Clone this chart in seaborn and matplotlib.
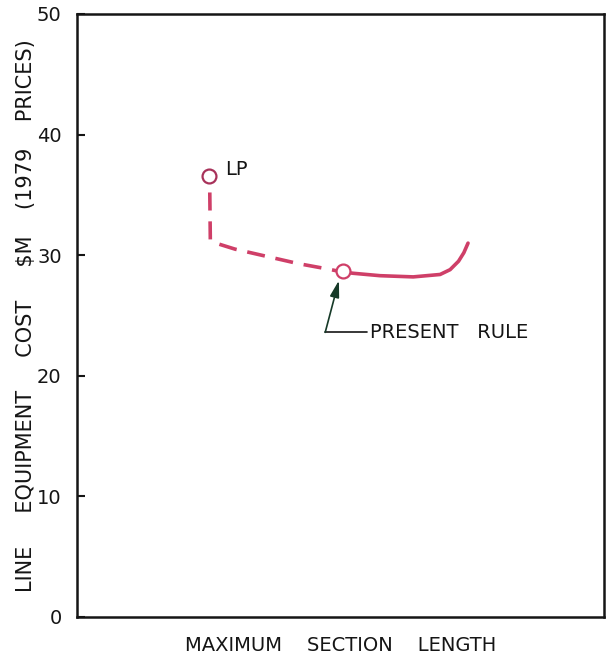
import numpy as np
import pandas as pd
import seaborn as sns
import matplotlib
matplotlib.use("Agg")
import matplotlib.pyplot as plt

# values (x in arbitrary units 0-100, cost in $M)
dash_x = [25.2, 25.2, 25.3, 25.6, 30.0, 36.0, 42.0, 47.0, 50.5]
dash_y = [36.4, 35.2, 31.3, 31.1, 30.5, 29.9, 29.3, 28.9, 28.6]
solid_x = [50.5, 52.4, 57.5, 63.8, 68.9, 70.8, 72.4, 73.4, 74.2]
solid_y = [28.6, 28.5, 28.3, 28.2, 28.4, 28.8, 29.5, 30.2, 31.0]
lp_pt = (25.1, 36.6)
present_pt = (50.5, 28.7)

line_col = "#cf3f68"
ink = "#151515"

sns.set_style("white")
plt.rcParams["font.family"] = ["DejaVu Sans"]
plt.rcParams["text.color"] = ink
plt.rcParams["axes.labelcolor"] = ink
plt.rcParams["ytick.color"] = ink

fig = plt.figure(figsize=(6.09, 6.60), dpi=100)
ax = fig.add_axes([0.1264, 0.0652, 0.8654, 0.9136])

# dashed part (LP end; skip circle portion)
sns.lineplot(x=dash_x[1:], y=dash_y[1:], ax=ax, color=line_col, lw=2.6,
             linestyle=(0, (5.0, 3.0)), sort=False, estimator=None)
sns.lineplot(x=solid_x, y=solid_y, ax=ax, color=line_col, lw=2.6,
             sort=False, estimator=None)
ax.plot(*lp_pt, marker="o", ms=10, mfc="white", mec="#a8325a", mew=1.6, zorder=5)
ax.plot(*present_pt, marker="o", ms=10, mfc="white", mec=line_col, mew=1.6, zorder=5)

ax.text(lp_pt[0] + 3.0, lp_pt[1] + 0.5, "LP", fontsize=14, va="center", ha="left")

# arrow to present rule
ax.plot([55.0, 47.1], [23.6, 23.6], color=ink, lw=1.2)
ax.annotate("", xy=(49.7, 27.9), xytext=(47.1, 23.6),
            arrowprops=dict(arrowstyle="-|>,head_length=1.0,head_width=0.28",
                            color="#163a28", lw=1.2, shrinkA=0, shrinkB=0))
ax.text(55.6, 23.6, "PRESENT   RULE", fontsize=14, va="center", ha="left")

ax.set_xlim(0, 100)
ax.set_ylim(0, 50)
ax.set_xticks([])
ax.set_yticks([0, 10, 20, 30, 40, 50])
ax.set_yticklabels(["0", "10", "20", "30", "40", "50"], fontsize=14)
ax.tick_params(axis="y", direction="in", length=6, width=1.5, pad=11, left=True)
for s in ax.spines.values():
    s.set_visible(True)
    s.set_color(ink)
    s.set_linewidth(1.8)

ax.set_xlabel("MAXIMUM    SECTION    LENGTH", fontsize=14, labelpad=14)
ax.set_ylabel("LINE     EQUIPMENT     COST     $M    (1979    PRICES)",
              fontsize=15, labelpad=1)

fig.savefig("out.png", dpi=100)
